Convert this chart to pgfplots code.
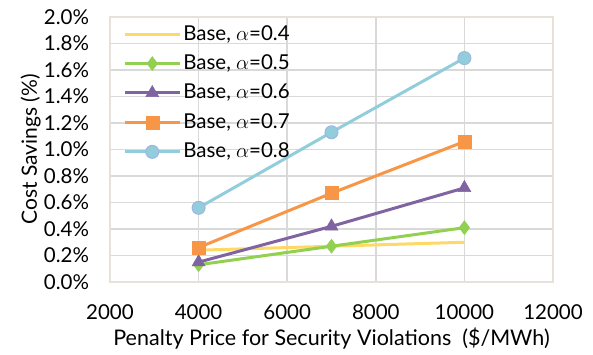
\documentclass[border=0pt]{standalone}
\usepackage{pgfplots}
\pgfplotsset{compat=1.18}
\usepackage{fontspec}
\setmainfont{Lato}
\definecolor{cyel}{HTML}{FFD966}
\definecolor{cgrn}{HTML}{92D050}
\definecolor{cpur}{HTML}{8064A2}
\definecolor{corg}{HTML}{F79646}
\definecolor{cblu}{HTML}{92CDDC}
\definecolor{cbluedge}{HTML}{9DB7E0}
\definecolor{cframe}{HTML}{E6E2DA}
\definecolor{cgrid}{HTML}{D9D9D9}
\begin{document}
\fontsize{20.5}{24}\selectfont
\begin{tikzpicture}
\begin{axis}[
  scale only axis,
  width=443pt, height=265pt,
  xmin=2000, xmax=12000, ymin=0, ymax=2.0,
  xtick={2000,4000,...,12000},
  ytick={0,0.2,...,2.0},
  scaled ticks=false,
  xticklabel={\pgfmathprintnumber[fixed,precision=0,1000 sep={}]{\tick}},
  yticklabel={\pgfmathprintnumber[fixed,fixed zerofill,precision=1]{\tick}\%},
  /pgf/number format/assume math mode=true,
  grid=major,
  major grid style={cgrid, line width=1.5pt},
  axis line style={cframe, line width=1.5pt},
  tick style={draw=none},
  xlabel={Penalty Price for Security Violations \ (\$/MWh)},
  ylabel={Cost Savings (\%)},
  xlabel style={at={([yshift=-63pt]axis description cs:0.5,0)}, anchor=base, font=\fontsize{21.5}{24}\selectfont},
  ylabel style={at={([xshift=-73pt]axis description cs:0,0.5)}, anchor=base, font=\fontsize{21}{24}\selectfont},
  yticklabel shift=14pt,
  tick label style={font=\fontsize{20.5}{24}\selectfont},
  xticklabel style={yshift=-16pt},
  legend style={at={(0.025,0.985)}, anchor=north west, draw=none, fill=none,
    font=\fontsize{20.5}{24}\selectfont, row sep=7.5pt, inner sep=2pt},
  legend cell align=left,
  legend image code/.code={
    \draw[#1, mark repeat=2, mark phase=2] plot coordinates {(0pt,0pt) (27.5pt,0pt) (55pt,0pt)};
  },
]
\addplot[cyel, line width=3pt, no marks] coordinates {(4000,0.24) (7000,0.27) (10000,0.30)};
\addlegendentry{Base, $\alpha$=0.4}
\addplot[cgrn, line width=3pt, mark=diamond*, mark size=7pt, mark options={fill=cgrn, draw=cgrn, line width=0.5pt}] coordinates {(4000,0.13) (7000,0.27) (10000,0.41)};
\addlegendentry{Base, $\alpha$=0.5}
\addplot[cpur, line width=3pt, mark=triangle*, mark size=7.5pt, mark options={fill=cpur, draw=cpur, line width=0.5pt}] coordinates {(4000,0.15) (7000,0.42) (10000,0.71)};
\addlegendentry{Base, $\alpha$=0.6}
\addplot[corg, line width=3pt, mark=square*, mark size=6.5pt, mark options={fill=corg, draw=corg, line width=0.5pt}] coordinates {(4000,0.26) (7000,0.67) (10000,1.06)};
\addlegendentry{Base, $\alpha$=0.7}
\addplot[cblu, line width=3pt, mark=*, mark size=6.5pt, mark options={fill=cblu, draw=cbluedge, line width=1pt}] coordinates {(4000,0.56) (7000,1.13) (10000,1.69)};
\addlegendentry{Base, $\alpha$=0.8}
\end{axis}
\pgfresetboundingbox
\path ([shift={(-110pt,-72pt)}]current axis.south west) rectangle ([shift={(40pt,17pt)}]current axis.north east);
\end{tikzpicture}
\end{document}
